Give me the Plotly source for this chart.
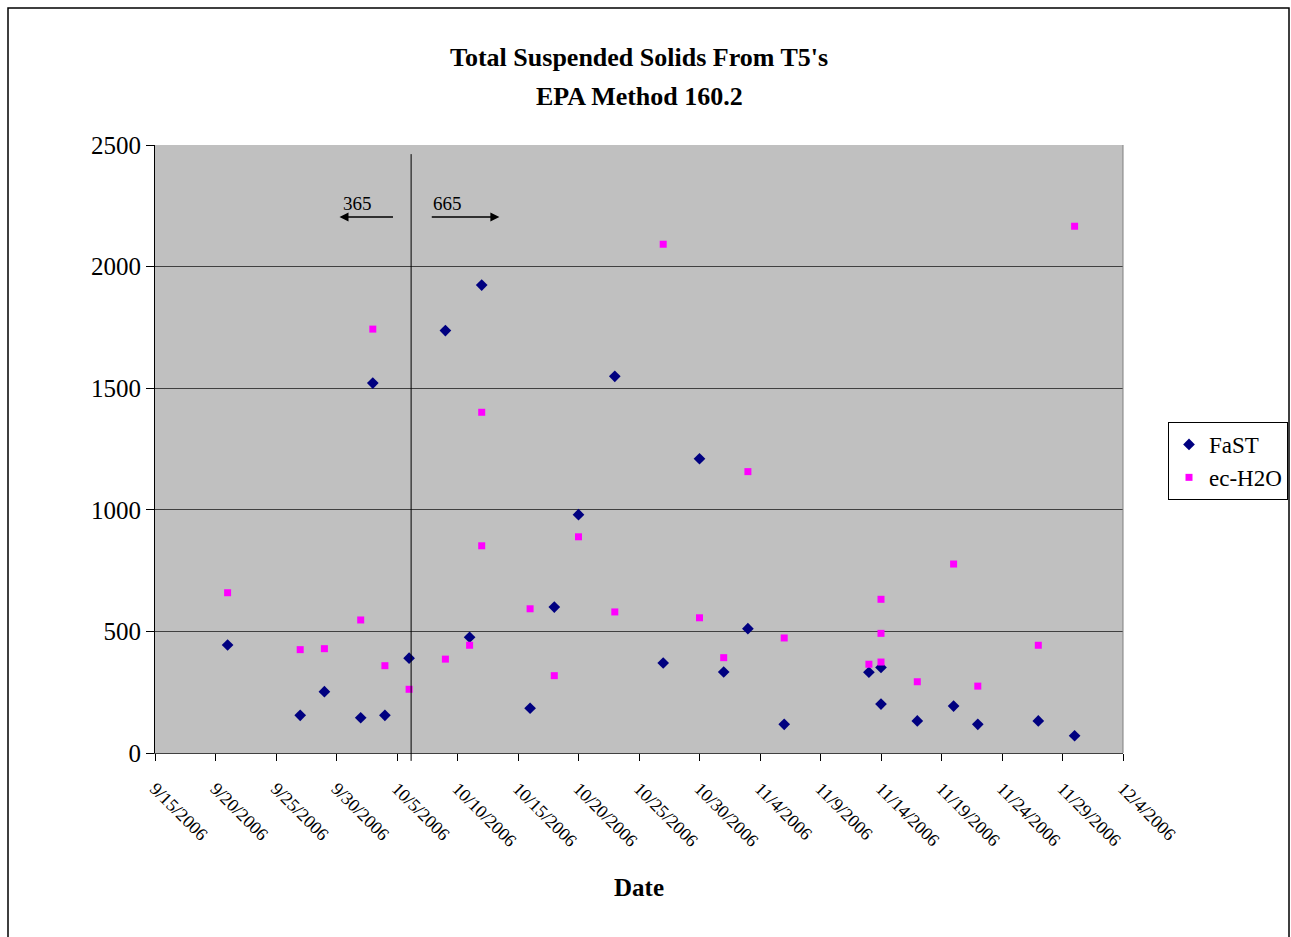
import plotly.graph_objects as go

fast_dates = ["2006-09-21", "2006-09-27", "2006-09-29", "2006-10-02", "2006-10-03", "2006-10-04",
              "2006-10-06", "2006-10-09", "2006-10-11", "2006-10-12", "2006-10-16", "2006-10-18",
              "2006-10-20", "2006-10-23", "2006-10-27", "2006-10-30", "2006-11-01", "2006-11-03",
              "2006-11-06", "2006-11-13", "2006-11-14", "2006-11-14", "2006-11-17", "2006-11-20",
              "2006-11-22", "2006-11-27", "2006-11-30"]
fast_vals = [444, 155, 252, 145, 1521, 155,
             390, 1737, 476, 1924, 184, 600,
             980, 1549, 370, 1210, 333, 511,
             118, 332, 352, 201, 132, 193,
             118, 132, 71]

ec_dates = ["2006-09-21", "2006-09-27", "2006-09-29", "2006-10-02", "2006-10-03", "2006-10-04",
            "2006-10-06", "2006-10-09", "2006-10-11", "2006-10-12", "2006-10-12", "2006-10-16",
            "2006-10-18", "2006-10-20", "2006-10-23", "2006-10-27", "2006-10-30", "2006-11-01",
            "2006-11-03", "2006-11-06", "2006-11-13", "2006-11-14", "2006-11-14", "2006-11-14",
            "2006-11-17", "2006-11-20", "2006-11-22", "2006-11-27", "2006-11-30"]
ec_vals = [659, 425, 429, 547, 1743, 359,
           262, 386, 443, 1401, 852, 593,
           318, 889, 580, 2092, 556, 392,
           1157, 473, 365, 632, 492, 374,
           293, 777, 275, 443, 2166]

title_lines = ["Total Suspended Solids From T5's", "EPA Method 160.2"]
divider_date = "2006-10-06 04:00"
x_start, x_end = "2006-09-15", "2006-12-04"

FONT = "Liberation Serif, Times New Roman, serif"

fig = go.Figure()
fig.add_trace(go.Scatter(x=fast_dates, y=fast_vals, mode="markers", name="FaST",
                         marker=dict(symbol="diamond", size=9, color="#000080")))
fig.add_trace(go.Scatter(x=ec_dates, y=ec_vals, mode="markers", name="ec-H2O",
                         marker=dict(symbol="square", size=7, color="#FF00FF")))

fig.update_layout(
    width=1291, height=937, autosize=False,
    margin=dict(l=155, r=168, t=145, b=184, autoexpand=False),
    paper_bgcolor="white", plot_bgcolor="#C0C0C0",
    font=dict(family=FONT, color="black"),
    showlegend=True,
    legend=dict(xref="container", yref="container", x=1288 / 1291, y=1 - 422 / 937,
                xanchor="right", yanchor="top",
                bordercolor="black", borderwidth=1, bgcolor="white",
                font=dict(size=23, family=FONT), itemsizing="trace", itemwidth=30,
                tracegroupgap=0),
    xaxis=dict(type="date", range=[x_start, x_end], tick0=x_start, dtick=5 * 86400000,
               tickformat="%-m/%-d/%Y", tickangle=45, ticks="outside", ticklen=7,
               tickcolor="black", showgrid=False, showline=True, linecolor="#404040",
               linewidth=1, tickfont=dict(size=18, family=FONT), automargin=False,
               ticklabelstandoff=10,
               title=dict(text="<b>Date</b>", font=dict(size=25, family=FONT), standoff=28),
               zeroline=False),
    yaxis=dict(range=[0, 2500], dtick=500, ticks="outside", ticklen=8, tickcolor="black",
               showgrid=True, gridcolor="#404040", gridwidth=1, showline=True,
               linecolor="black", linewidth=1, tickfont=dict(size=25, family=FONT),
               automargin=False, zeroline=False),
)

# title lines
fig.add_annotation(text="<b>" + title_lines[0] + "</b>", xref="paper", yref="paper",
                   x=0.5, y=(753 - 57) / 608, showarrow=False, yanchor="middle",
                   font=dict(size=26, family=FONT))
fig.add_annotation(text="<b>" + title_lines[1] + "</b>", xref="paper", yref="paper",
                   x=0.5, y=(753 - 97) / 608, showarrow=False, yanchor="middle",
                   font=dict(size=26, family=FONT))

# divider line
fig.add_shape(type="line", xref="x", yref="paper", x0=divider_date, x1=divider_date,
              y0=-0.013, y1=0.985, line=dict(color="black", width=1))
# right edge of plot
fig.add_shape(type="line", xref="paper", yref="paper", x0=1, x1=1, y0=0, y1=1,
              line=dict(color="#808080", width=1))

# arrows
fig.add_annotation(x="2006-09-30 06:00", y=2204, ax="2006-10-04 19:00", ay=2204,
                   xref="x", yref="y", axref="x", ayref="y", showarrow=True,
                   arrowhead=2, arrowsize=1.2, arrowwidth=1.5, arrowcolor="black", text="")
fig.add_annotation(x="2006-10-13 11:00", y=2204, ax="2006-10-07 18:00", ay=2204,
                   xref="x", yref="y", axref="x", ayref="y", showarrow=True,
                   arrowhead=2, arrowsize=1.2, arrowwidth=1.5, arrowcolor="black", text="")
fig.add_annotation(x="2006-10-01 17:00", y=2261, text="365", showarrow=False,
                   font=dict(size=19, family=FONT))
fig.add_annotation(x="2006-10-09 05:00", y=2261, text="665", showarrow=False,
                   font=dict(size=19, family=FONT))

# outer chart border
fig.add_shape(type="rect", xref="paper", yref="paper",
              x0=(8 - 155) / 968, x1=(1289 - 155) / 968, y0=(753 - 950) / 608, y1=(753 - 8) / 608,
              line=dict(color="black", width=1.5), fillcolor="rgba(0,0,0,0)", layer="below")

fig.write_html("out.html", config={"responsive": False, "displayModeBar": False},
               post_script="document.body.style.margin='0';document.body.style.overflow='hidden';")
